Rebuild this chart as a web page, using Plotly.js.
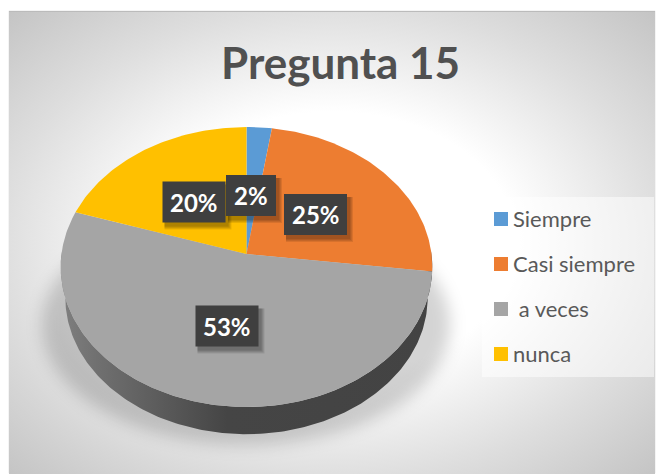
<!DOCTYPE html>
<html><head><meta charset="utf-8">
<script src="https://cdn.plot.ly/plotly-3.0.0.min.js"></script>
<style>
html,body{margin:0;padding:0;background:#fff;width:658px;height:474px;overflow:hidden}
#bg{position:absolute;left:9px;top:12px;width:646px;height:462px;
 background:radial-gradient(ellipse 71% 71% at 50% 50%,#fff 0%,#fff 40%,#dedede 72%,#c4c4c4 100%);box-shadow:0 -1px 1px #bbb}
#sh{position:absolute;left:42px;top:205px;width:408px;height:240px;border-radius:50%;background:rgba(0,0,0,.17);filter:blur(8px)}
#chart{position:absolute;left:0;top:0;width:658px;height:474px}
</style></head><body>
<div id="bg"></div><div id="sh"></div><div id="chart"></div>
<script>
var categories=['Siempre','Casi siempre',' a veces','nunca'];
var values=[2.4,24.6,53,20];
var colors=['#5b9bd5','#ed7d31','#a5a5a5','#ffc000'];
var titleText='Pregunta 15';

var cx=246.5,cy=254,k=185,a=138.8,b=0.093;
function pt(deg,scale,dy){
  var t=deg*Math.PI/180,X=Math.sin(t),Y=-Math.cos(t),d=1-b*Y;
  scale=scale||1;dy=dy||0;
  return [cx+scale*k*X/d,cy+dy+scale*a*Y/d];
}
function arc(from,to,scale,dy){
  var xs=[],ys=[],n=Math.max(2,Math.ceil(Math.abs(to-from)));
  for(var i=0;i<=n;i++){var p=pt(from+(to-from)*i/n,scale,dy);xs.push(p[0]);ys.push(p[1]);}
  return [xs,ys];
}
var total=values.reduce(function(s,v){return s+v;},0);
var traces=[];
var top1=arc(88,272),base=arc(272,88,0.975,31);
traces.push({type:'scatter',mode:'lines',x:top1[0].concat(base[0]),y:top1[1].concat(base[1]),
  fill:'toself',line:{width:0},hoverinfo:'skip',showlegend:false,
  fillgradient:{type:'horizontal',start:60,stop:432,
    colorscale:[[0,'#808080'],[0.1,'#707070'],[0.45,'#454545'],[1,'#434343']]}});
var acc=0;
values.forEach(function(v,i){
  var s=acc/total*360,e=(acc+v)/total*360;acc+=v;
  var r=arc(s,e);
  traces.push({type:'scatter',mode:'lines',name:categories[i],
    x:[cx].concat(r[0],[cx]),y:[cy].concat(r[1],[cy]),
    fill:'toself',fillcolor:colors[i],line:{width:0},hoverinfo:'name',showlegend:false});
});
var labelPos=[[251,195.5],[315.5,214.5],[227,326],[194,202]];
var annotations=[],shapes=[];
function box(x0,y0,x1,y1,fill,layer){return {type:'rect',xref:'x',yref:'y',x0:x0,x1:x1,y0:y0,y1:y1,fillcolor:fill,line:{width:0},layer:layer||'above'};}
function halfW(i){return i==0?25:31.5;}
values.forEach(function(v,i){
  var p=labelPos[i],w=halfW(i),h=20.5;
  for(var g=4;g>=1;g--)shapes.push(box(p[0]-w+2,p[1]-h+3,p[0]+w+g+2,p[1]+h+g+3,'rgba(0,0,0,0.09)'));
});
[3,0,1,2].forEach(function(i){
  var p=labelPos[i],w=halfW(i),h=20.5,d='',row=0;
  shapes.push(box(p[0]-w,p[1]-h,p[0]+w,p[1]+h,'#3f3f3f'));
  for(var y=p[1]-h+2;y<p[1]+h-1;y+=3.2){
    for(var x=p[0]-w+2+(row%2)*3.2;x<p[0]+w-1;x+=6.4){d+='M'+x+' '+y+'h1.5v1.5h-1.5Z';}
    row++;
  }
  shapes.push({type:'path',xref:'x',yref:'y',path:d,fillcolor:'rgba(255,255,255,0.22)',line:{width:0},layer:'above'});
  annotations.push({x:p[0],y:p[1],xref:'x',yref:'y',text:'<b>'+Math.round(values[i])+'%</b>',showarrow:false,
    font:{family:'Lato',size:24,color:'#fff'}});
});
shapes.push(box(482,197,654,377,'rgba(255,255,255,0.5)','below'));
var legendY=[219,264,309,354];
categories.forEach(function(c,i){
  var yy=legendY[i];
  shapes.push(box(494,yy-7,508,yy+7,colors[i]));
  annotations.push({x:511,y:yy-1,xref:'x',yref:'y',xanchor:'left',text:c.replace(/^ /,'&nbsp;'),showarrow:false,
    font:{family:'Lato',size:22,color:'#595959'}});
});
annotations.push({x:340,y:62,xref:'x',yref:'y',text:'<b>'+titleText+'</b>',showarrow:false,
  font:{family:'Lato',size:44,color:'#505050'}});
Plotly.newPlot('chart',traces,{
  width:658,height:474,margin:{l:0,r:0,t:0,b:0},
  paper_bgcolor:'rgba(0,0,0,0)',plot_bgcolor:'rgba(0,0,0,0)',showlegend:false,
  xaxis:{range:[0,658],visible:false,fixedrange:true},
  yaxis:{range:[474,0],visible:false,fixedrange:true},
  shapes:shapes,annotations:annotations
},{displayModeBar:false,staticPlot:true});
</script></body></html>
